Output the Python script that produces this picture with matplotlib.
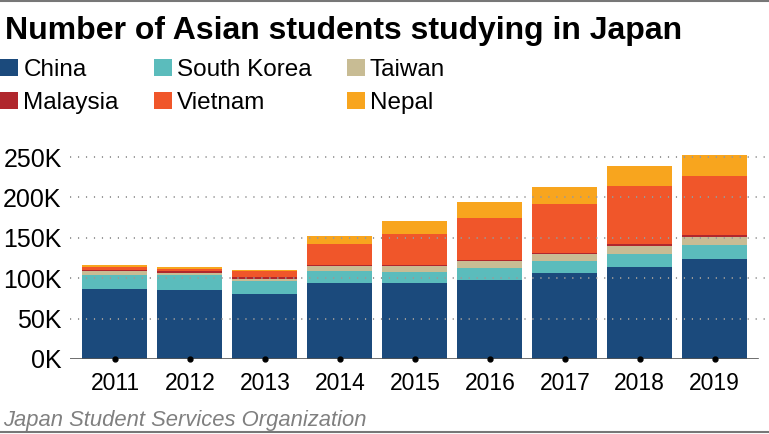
import matplotlib
matplotlib.use('Agg')

import matplotlib.pyplot as plt
from matplotlib.patches import Patch
from matplotlib.lines import Line2D
import numpy as np

plt.rcParams['font.family'] = ['Liberation Sans', 'DejaVu Sans']

years = ['2011', '2012', '2013', '2014', '2015', '2016', '2017', '2018', '2019']
countries = ['China', 'South Korea', 'Taiwan', 'Malaysia', 'Vietnam', 'Nepal']
colors = ['#1b4a7c', '#5bbcbc', '#c8bc94', '#b0272d', '#f0562a', '#f8a51e']

# students, in thousands
china = [87.0, 85.4, 80.4, 93.6, 93.6, 97.8, 106.4, 113.9, 124.1]
south_korea = [17.6, 18.1, 16.8, 14.8, 14.4, 15.2, 15.3, 16.4, 17.0]
taiwan = [4.0, 3.0, 2.0, 6.2, 7.0, 7.8, 7.8, 9.6, 9.9]
malaysia = [2.2, 2.3, 1.8, 1.5, 1.8, 2.0, 1.9, 2.4, 2.8]
vietnam = [3.5, 2.7, 7.4, 26.6, 38.3, 52.4, 60.8, 72.2, 73.1]
nepal = [1.9, 2.0, 2.1, 9.9, 16.4, 19.5, 21.4, 24.7, 25.6]
series = [china, south_korea, taiwan, malaysia, vietnam, nepal]

yticks = [0, 50, 100, 150, 200, 250]
ytick_labels = ['0K', '50K', '100K', '150K', '200K', '250K']

W, H = 769, 434
fig = plt.figure(figsize=(W / 100, H / 100), dpi=100)
ax = fig.add_axes([70 / W, 75 / H, 695 / W, 214 / H])

x = np.arange(len(years))
bottom = np.zeros(len(years))
for name, vals, col in zip(countries, series, colors):
    ax.bar(x, vals, width=0.867, bottom=bottom, color=col, label=name, zorder=1)
    bottom += np.array(vals)

ax.set_xlim(-0.6, 8.67)
ax.set_ylim(0, 265)
ax.set_yticks(yticks)
ax.set_yticklabels(ytick_labels)
ax.set_xticks(x)
ax.set_xticklabels(years)
ax.tick_params(axis='y', length=0, pad=6, labelsize=18)
ax.tick_params(axis='x', length=0, pad=9, labelsize=16.5)

for t in yticks[1:]:
    ax.axhline(t, color='#999999', linestyle=(0, (0.6, 3.5)), linewidth=1.4, zorder=3)
ax.axhline(0, xmax=0.99, color='#555555', linewidth=1.2, zorder=3)
ax.plot(x, np.zeros(len(x)), 'o', color='black', markersize=3.5, zorder=4, clip_on=False)

for s in ax.spines.values():
    s.set_visible(False)

# legend is filled row by row in the reference
order = [0, 3, 1, 4, 2, 5]
handles = [Patch(facecolor=colors[i], label=countries[i]) for i in order]
fig.legend(handles=handles, loc='upper left', bbox_to_anchor=(0.0, 1 - 59 / H), ncol=3,
           frameon=False, fontsize=17.5, handlelength=0.76, handleheight=0.66,
           handletextpad=0.2, columnspacing=1.44, labelspacing=0.45, borderpad=0,
           borderaxespad=0)

fig.text(5 / W, 1 - 39 / H, 'Number of Asian students studying in Japan',
         fontsize=23, fontweight='bold', va='baseline', ha='left')
fig.text(3 / W, 1 - 426 / H, 'Japan Student Services Organization',
         fontsize=15.8, style='italic', color='#808080', va='baseline', ha='left')

fig.add_artist(Line2D([0, 1], [1 - 1 / H, 1 - 1 / H], color='#777777', linewidth=1.5))
fig.add_artist(Line2D([0, 1], [1 - 432 / H, 1 - 432 / H], color='#777777', linewidth=1.5))

plt.savefig('out.png', dpi=100)
plt.close()
